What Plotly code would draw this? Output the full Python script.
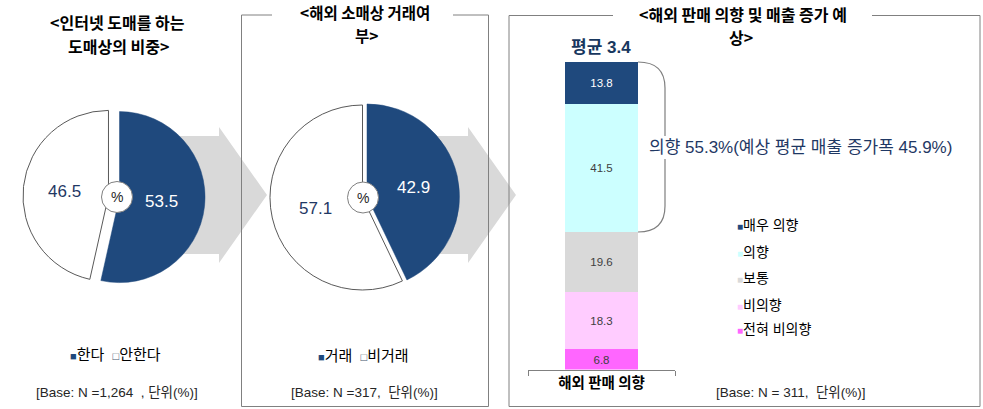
import plotly.graph_objects as go

W, H = 983, 409

# ---------------- data ----------------
pie1_labels = ["한다", "안한다"]
pie1_values = [53.5, 46.5]
pie2_labels = ["거래", "비거래"]
pie2_values = [42.9, 57.1]

bar_category = ["해외 판매 의향"]
bar_labels = ["전혀 비의향", "비의향", "보통", "의향", "매우 의향"]   # bottom -> top
bar_values = [6.8, 18.3, 19.6, 41.5, 13.8]

title1 = ["&lt;인터넷 도매를 하는", "도매상의 비중&gt;"]
title2 = ["&lt;해외 소매상 거래여", "부&gt;"]
title3 = ["&lt;해외 판매 의향 및 매출 증가 예", "상&gt;"]
base1 = "[Base: N =1,264\u00a0\u00a0, 단위(%)]"
base2 = "[Base: N =317,\u00a0\u00a0단위(%)]"
base3 = "[Base: N = 311,\u00a0\u00a0단위(%)]"
mean_text = "평균 3.4"
bracket_text = "의향 55.3%(예상 평균 매출 증가폭 45.9%)"

# ---------------- styles ----------------
FONT = "Liberation Sans, Noto Sans CJK KR, sans-serif"
KFONT = "Noto Sans CJK KR, Liberation Sans, sans-serif"
NAVY = "#1f497d"
DARK = "#1f3864"
GRAY_LINE = "#808080"
bar_colors = ["#ff66ff", "#ffccff", "#d9d9d9", "#ccffff", NAVY]
bar_text_colors = ["#404040", "#404040", "#404040", "#404040", "#ffffff"]
pie_colors = [NAVY, "#ffffff"]


def px(x):
    return x / W


def py(y):
    return 1 - y / H


def path(points_cmds):
    out = []
    for cmd, pts in points_cmds:
        s = cmd
        s += " ".join(f"{px(x):.5f},{py(y):.5f}" for x, y in pts)
        out.append(s)
    return " ".join(out)


def pie_domain(cx, cy, half):
    return dict(x=[px(cx - half), px(cx + half)],
                y=[py(cy + half), py(cy - half)])


fig = go.Figure()

# pie 1
r1, p1 = 85.5, 0.065
fig.add_trace(go.Pie(
    labels=pie1_labels, values=pie1_values, sort=False, direction="clockwise",
    rotation=0, pull=[p1, p1], textinfo="none", hoverinfo="skip",
    marker=dict(colors=pie_colors, line=dict(color=[NAVY, "#595959"], width=[0.5, 1])),
    domain=pie_domain(114, 196.5, r1 * (1 + p1)), showlegend=False))

# pie 2
r2, p2 = 92.5, 0.05
fig.add_trace(go.Pie(
    labels=pie2_labels, values=pie2_values, sort=False, direction="clockwise",
    rotation=0, pull=[p2, 0], textinfo="none", hoverinfo="skip",
    marker=dict(colors=pie_colors, line=dict(color=[NAVY, "#595959"], width=[0.5, 1])),
    domain=pie_domain(362.5, 197.5, r2 * (1 + p2)), showlegend=False))

# stacked bar
for lab, val, col, tcol in zip(bar_labels, bar_values, bar_colors, bar_text_colors):
    fig.add_trace(go.Bar(
        x=bar_category, y=[val], name=lab, marker=dict(color=col, line=dict(width=0)),
        width=0.49, text=[f"{val:.1f}"], textposition="inside", insidetextanchor="middle",
        textangle=0, textfont=dict(color=tcol, size=11.5, family=FONT),
        hoverinfo="skip", showlegend=False, xaxis="x2", yaxis="y2"))

shapes = []
# gray arrows (behind pies)
for x_start, x_head, x_tip in [(150, 219, 267), (400, 468, 516)]:
    shapes.append(dict(
        type="path", layer="below", xref="paper", yref="paper",
        path=path([("M", [(x_start, 136)]), ("L", [(x_head, 136)]), ("L", [(x_head, 127)]),
                   ("L", [(x_tip, 195)]), ("L", [(x_head, 263)]), ("L", [(x_head, 254)]),
                   ("L", [(x_start, 254)]), ("Z", [])]),
        fillcolor="#d9d9d9", line=dict(width=0)))

# panel borders with title gaps
def seg(x0, y0, x1, y1):
    return dict(type="line", xref="paper", yref="paper", layer="below",
                x0=px(x0), y0=py(y0), x1=px(x1), y1=py(y1),
                line=dict(color=GRAY_LINE, width=1))

shapes += [
    seg(241.5, 15, 272, 15), seg(453, 15, 488.5, 15),
    seg(241.5, 15, 241.5, 406.5), seg(488.5, 15, 488.5, 406.5), seg(241.5, 406.5, 488.5, 406.5),
    seg(509, 15.5, 613, 15.5), seg(872, 15.5, 980, 15.5),
    seg(509, 15.5, 509, 406.5), seg(980, 15.5, 980, 406.5), seg(509, 406.5, 980, 406.5),
]

# "%" circles
for cx, cy in [(117, 197), (363, 197.5)]:
    shapes.append(dict(type="circle", xref="paper", yref="paper", layer="above",
                       x0=px(cx - 15.5), x1=px(cx + 15.5), y0=py(cy + 15.5), y1=py(cy - 15.5),
                       fillcolor="#ffffff", line=dict(color="#7f7f7f", width=1)))

# bracket (split around its label)
shapes.append(dict(type="path", xref="paper", yref="paper", layer="above",
                   path=path([("M", [(638, 62)]), ("C", [(656, 62), (665, 70), (665, 88)]),
                              ("L", [(665, 136)]),
                              ("M", [(665, 159)]), ("L", [(665, 206)]),
                              ("C", [(665, 224), (656, 232), (638, 232)])]),
                   line=dict(color="#7f7f7f", width=1.2)))

ann = []


def text(x, y, s, size=13, color="#000000", bold=False, xanchor="center", family=FONT):
    ann.append(dict(x=px(x), y=py(y), xref="paper", yref="paper", text=s, showarrow=False,
                    xanchor=xanchor, yanchor="middle", align="center",
                    font=dict(size=size, color=color, family=family,
                              weight="bold" if bold else "normal")))


# titles (two separate lines each)
text(117, 22, title1[0], 16, "#000000", True, family=KFONT)
text(118, 45.5, title1[1], 16, "#000000", True, family=KFONT)
text(364.5, 12.5, title2[0], 15.5, "#000000", True, family=KFONT)
text(366, 35, title2[1], 15.5, "#000000", True, family=KFONT)
text(742.5, 14, title3[0], 16, "#000000", True, family=KFONT)
text(741, 37.5, title3[1], 16, "#000000", True, family=KFONT)

# pie value labels
text(161, 202, f"{pie1_values[0]:.1f}", 17, "#ffffff")
text(64, 191, f"{pie1_values[1]:.1f}", 17, DARK)
text(413, 187, f"{pie2_values[0]:.1f}", 17, "#ffffff")
text(315, 208, f"{pie2_values[1]:.1f}", 17, DARK)
text(117, 197, "%", 14, "#262626")
text(363, 197.5, "%", 14, "#262626")


def sq(color, filled=True, size=11):
    ch = "■" if filled else "□"
    return f'<span style="color:{color};font-size:{size}px">{ch}</span>'


# pie legends
text(115, 354, f"{sq(NAVY)}{pie1_labels[0]}\u00a0\u00a0{sq('#44546a', False)}{pie1_labels[1]}", 15, "#000000")
text(363, 355, f"{sq(NAVY)}{pie2_labels[0]}\u00a0\u00a0{sq('#44546a', False)}{pie2_labels[1]}", 15, "#000000")

# base notes
text(117, 392, base1, 13.5, "#262626")
text(364, 392, base2, 13.5, "#262626")
text(791, 392, base3, 13.5, "#262626")

# bar annotations
text(601, 47, mean_text, 17, "#17375e", True)
text(800, 147, bracket_text, 17, DARK)

# right legend (top -> bottom)
legend_y = [225, 252, 278, 305, 329]
for lab, col, yy in zip(bar_labels[::-1], bar_colors[::-1], legend_y):
    text(735, yy, f"{sq(col, size=10)}{lab}", 14, "#000000", xanchor="left")

fig.update_layout(
    width=W, height=H, margin=dict(l=0, r=0, t=0, b=0),
    paper_bgcolor="#ffffff", plot_bgcolor="rgba(0,0,0,0)",
    barmode="stack", bargap=0, showlegend=False, hovermode=False,
    shapes=shapes, annotations=ann,
    font=dict(family=FONT, color="#000000"),
    xaxis2=dict(domain=[px(528), px(675)], anchor="y2", type="category",
                range=[-0.5, 0.5], showline=True, linecolor=GRAY_LINE, linewidth=1,
                ticks="outside", tickson="boundaries", ticklen=5, tickcolor=GRAY_LINE,
                showgrid=False, zeroline=False, fixedrange=True,
                tickfont=dict(size=14.5, color="#000000", family=KFONT, weight="bold")),
    yaxis2=dict(domain=[py(369.5), py(62)], anchor="x2", range=[0, 100], visible=False,
                fixedrange=True),
)

fig.write_html("out.html", config={"displayModeBar": False},
               post_script="document.body.style.margin='0';document.body.style.padding='0';")
